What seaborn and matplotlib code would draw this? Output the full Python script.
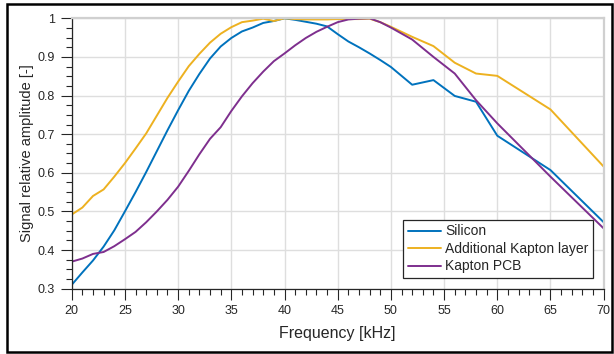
import matplotlib
matplotlib.use("Agg")
import matplotlib.pyplot as plt
from matplotlib.patches import Rectangle
from matplotlib.ticker import MultipleLocator
import numpy as np
import pandas as pd
import seaborn as sns

# Measurement frequencies [kHz]
freq = [20, 21, 22, 23, 24, 25, 26, 27, 28, 29, 30, 31, 32, 33, 34, 35, 36, 37, 38, 39,
        40, 41, 42, 43, 44, 45, 46, 47, 48, 49, 50, 52, 54, 56, 58, 60, 65, 70]

# Relative signal amplitude for each sensor build
silicon = [0.310, 0.342, 0.373, 0.409, 0.451, 0.500, 0.550, 0.602, 0.656, 0.710,
           0.762, 0.812, 0.856, 0.896, 0.927, 0.949, 0.966, 0.976, 0.988, 0.993,
           1.000, 0.996, 0.991, 0.986, 0.979, 0.959, 0.940, 0.925, 0.909, 0.892,
           0.874, 0.828, 0.840, 0.799, 0.784, 0.696, 0.607, 0.472]
kapton_layer = [0.492, 0.510, 0.540, 0.557, 0.590, 0.625, 0.663, 0.702, 0.748, 0.794,
                0.836, 0.876, 0.908, 0.937, 0.960, 0.977, 0.990, 0.994, 0.999, 0.993,
                1.000, 0.998, 0.997, 0.997, 0.997, 0.998, 0.998, 0.998, 0.999, 0.990,
                0.978, 0.952, 0.928, 0.885, 0.857, 0.851, 0.764, 0.616]
kapton_pcb = [0.370, 0.378, 0.390, 0.395, 0.410, 0.428, 0.447, 0.472, 0.500, 0.530,
              0.564, 0.605, 0.648, 0.688, 0.718, 0.760, 0.798, 0.832, 0.862, 0.889,
              0.909, 0.930, 0.949, 0.965, 0.978, 0.990, 0.997, 0.999, 1.000, 0.990,
              0.976, 0.945, 0.900, 0.857, 0.788, 0.728, 0.590, 0.456]

labels = ["Silicon", "Additional Kapton layer", "Kapton PCB"]
colors = ["#0072BD", "#EDB120", "#7E2F8E"]

df = pd.concat([
    pd.DataFrame({"Frequency": freq, "Amplitude": vals, "Sample": name})
    for name, vals in zip(labels, [silicon, kapton_layer, kapton_pcb])
], ignore_index=True)

sns.set_theme(style="whitegrid")
plt.rcParams["font.family"] = ["Liberation Sans", "DejaVu Sans"]

fig = plt.figure(figsize=(6.14, 3.54), dpi=100)
ax = fig.add_axes([0.1168, 0.1845, 0.8664, 0.7638])

sns.lineplot(data=df, x="Frequency", y="Amplitude", hue="Sample",
             hue_order=labels, palette=colors, linewidth=1.4, ax=ax)

ax.set_xlim(20, 70)
ax.set_ylim(0.3, 1.0)
ax.xaxis.set_major_locator(MultipleLocator(5))
ax.xaxis.set_minor_locator(MultipleLocator(1))
ax.yaxis.set_minor_locator(MultipleLocator(0.025))
ax.set_yticks(np.round(np.arange(0.3, 1.01, 0.1), 1))
ax.set_yticklabels(["0.3", "0.4", "0.5", "0.6", "0.7", "0.8", "0.9", "1"])

ax.grid(True, which="major", color="#dedede", linewidth=1.0)
ax.grid(False, which="minor")
ax.set_facecolor("white")

for side in ["left", "bottom"]:
    ax.spines[side].set_color("#262626")
    ax.spines[side].set_linewidth(0.9)
for side in ["top", "right"]:
    ax.spines[side].set_color("#d0d0d0")
    ax.spines[side].set_linewidth(1.6)

ax.tick_params(axis="both", which="major", direction="out", length=8, width=0.8,
               color="#262626", labelsize=9, labelcolor="#262626", pad=4,
               left=True, bottom=True)
ax.tick_params(axis="both", which="minor", direction="out", length=4, width=0.8,
               color="#262626", left=True, bottom=True)

ax.set_xlabel("Frequency [kHz]", fontsize=11.5, color="#262626", labelpad=6)
ax.set_ylabel("Signal relative amplitude [-]", fontsize=10.5, color="#262626", labelpad=3)

leg = ax.legend(loc="lower right", bbox_to_anchor=(0.9805, 0.0385), fontsize=10,
                frameon=True, fancybox=False, framealpha=1, edgecolor="#262626",
                handlelength=2.4, handletextpad=0.3, borderpad=0.35, labelspacing=0.25,
                borderaxespad=0)
leg.get_frame().set_linewidth(0.9)
for t in leg.get_texts():
    t.set_color("#262626")

# Outer frame around the figure
fig.patches.append(Rectangle((0.0114, 0.0065), 0.985, 0.982, transform=fig.transFigure,
                             fill=False, edgecolor="black", linewidth=1.8))

fig.savefig("out.png", dpi=100, facecolor="white")
